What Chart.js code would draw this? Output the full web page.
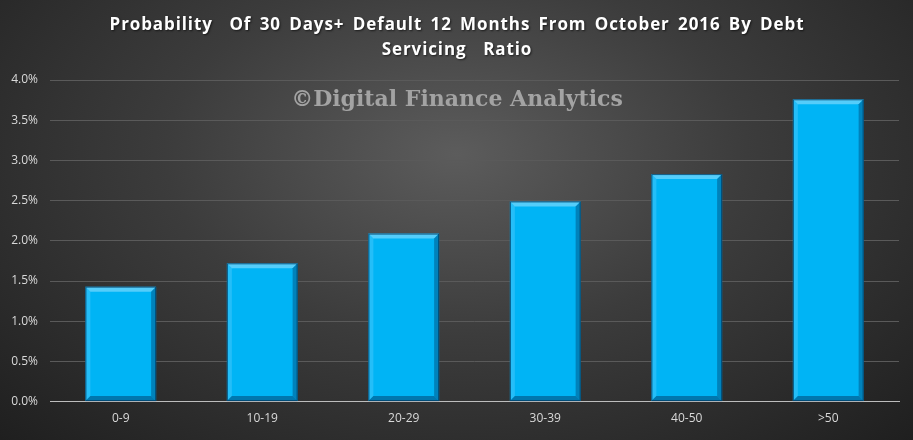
<!DOCTYPE html>
<html>
<head>
<meta charset="utf-8">
<script src="https://cdn.jsdelivr.net/npm/chart.js@4"></script>
<style>
  html, body { margin: 0; padding: 0; }
  body {
    width: 913px; height: 440px; overflow: hidden;
    background: radial-gradient(ellipse at 50% 35%, #5c5c5c 0%, #3c3c3c 45%, #1f1f1f 100%);
  }
  #wrap { position: relative; width: 913px; height: 440px; }
</style>
</head>
<body>
<div id="wrap"><canvas id="myCanvas" width="913" height="440"></canvas></div>
<script>
// dados do grafico
var categorias = ["0-9", "10-19", "20-29", "30-39", "40-50", ">50"];
var probabilidade = [1.43, 1.72, 2.09, 2.49, 2.83, 3.76];
var ticksY = [0, 0.5, 1, 1.5, 2, 2.5, 3, 3.5, 4];
var titulo = ["Probability  Of 30 Days+ Default 12 Months From October 2016 By Debt", "Servicing  Ratio"];
var marcaDagua = "\u00A9Digital Finance Analytics";

// titulo desenhado a mao (precisa de espacamento entre letras)
var tituloPlugin = {
  id: "tituloPlugin",
  afterDraw(chart) {
    var ctx = chart.ctx;
    ctx.save();
    ctx.font = "bold 17px 'Open Sans', sans-serif";
    ctx.letterSpacing = "0.9px";
    ctx.wordSpacing = "3px";
    ctx.fillStyle = "#ffffff";
    ctx.textAlign = "center";
    ctx.textBaseline = "middle";
    ctx.shadowColor = "rgba(0,0,0,0.6)";
    ctx.shadowOffsetX = 1;
    ctx.shadowOffsetY = 1;
    ctx.shadowBlur = 2;
    ctx.fillText(titulo[0], 457, 25);
    ctx.fillText(titulo[1], 457, 50);
    ctx.restore();
  }
};

// efeito de chanfro nas barras
var chanfro = {
  id: "chanfro",
  afterDatasetsDraw(chart) {
    var ctx = chart.ctx;
    chart.getDatasetMeta(0).data.forEach(function (bar) {
      var l = bar.x - bar.width / 2, r = bar.x + bar.width / 2;
      var t = bar.y, b = bar.base, e = 5;
      ctx.save();
      ctx.fillStyle = "rgba(170,230,255,0.5)";
      ctx.beginPath();
      ctx.moveTo(l, t); ctx.lineTo(r, t); ctx.lineTo(r - e, t + e); ctx.lineTo(l + e, t + e); ctx.closePath();
      ctx.fill();
      ctx.fillStyle = "rgba(120,215,255,0.3)";
      ctx.beginPath();
      ctx.moveTo(l, t); ctx.lineTo(l + e, t + e); ctx.lineTo(l + e, b - e); ctx.lineTo(l, b); ctx.closePath();
      ctx.fill();
      ctx.fillStyle = "rgba(0,80,130,0.5)";
      ctx.beginPath();
      ctx.moveTo(r, t); ctx.lineTo(r - e, t + e); ctx.lineTo(r - e, b - e); ctx.lineTo(r, b); ctx.closePath();
      ctx.fill();
      ctx.fillStyle = "rgba(0,70,115,0.55)";
      ctx.beginPath();
      ctx.moveTo(l, b); ctx.lineTo(l + e, b - e); ctx.lineTo(r - e, b - e); ctx.lineTo(r, b); ctx.closePath();
      ctx.fill();
      ctx.strokeStyle = "rgba(0,60,100,0.8)";
      ctx.lineWidth = 1;
      ctx.strokeRect(l + 0.5, t + 0.5, r - l - 1, b - t - 1);
      ctx.restore();
    });
  }
};

var marca = {
  id: "marca",
  beforeDatasetsDraw(chart) {
    var ctx = chart.ctx;
    ctx.save();
    ctx.font = "bold 22px 'DejaVu Serif', serif";
    ctx.fillStyle = "#a3a3a3";
    ctx.textAlign = "center";
    ctx.textBaseline = "middle";
    ctx.fillText(marcaDagua, 457, 100);
    ctx.restore();
  }
};

var config = {
  type: "bar",
  data: {
    labels: categorias,
    datasets: [{
      label: "Probability",
      data: probabilidade,
      backgroundColor: "#00b4f5",
      borderWidth: 0,
      barPercentage: 0.5,
      categoryPercentage: 1.0
    }]
  },
  options: {
    responsive: false,
    animation: false,
    layout: { padding: { left: 0, right: 14, top: 80, bottom: 4 } },
    scales: {
      x: {
        grid: { display: false, drawTicks: false },
        border: { display: true, color: "#bdbdbd", width: 1 },
        ticks: { color: "#d9d9d9", font: { family: "'Open Sans', sans-serif", size: 12 }, padding: 10 }
      },
      y: {
        min: 0, max: 4,
        afterBuildTicks: function (axis) { axis.ticks = ticksY.map(function (v) { return { value: v }; }); },
        afterFit: function (axis) { axis.width = 50; },
        grid: { color: "#5a5a5a", drawTicks: false },
        border: { display: false },
        ticks: {
          color: "#d9d9d9",
          font: { family: "'Open Sans', sans-serif", size: 12 },
          padding: 12,
          callback: function (v) { return v.toFixed(1) + "%"; }
        }
      }
    },
    plugins: {
      legend: { display: false },
      tooltip: { enabled: false },
      title: { display: false }
    }
  },
  plugins: [marca, chanfro, tituloPlugin]
};

var ctx = document.getElementById("myCanvas").getContext("2d");
var myChart = new Chart(ctx, config);
</script>
</body>
</html>
